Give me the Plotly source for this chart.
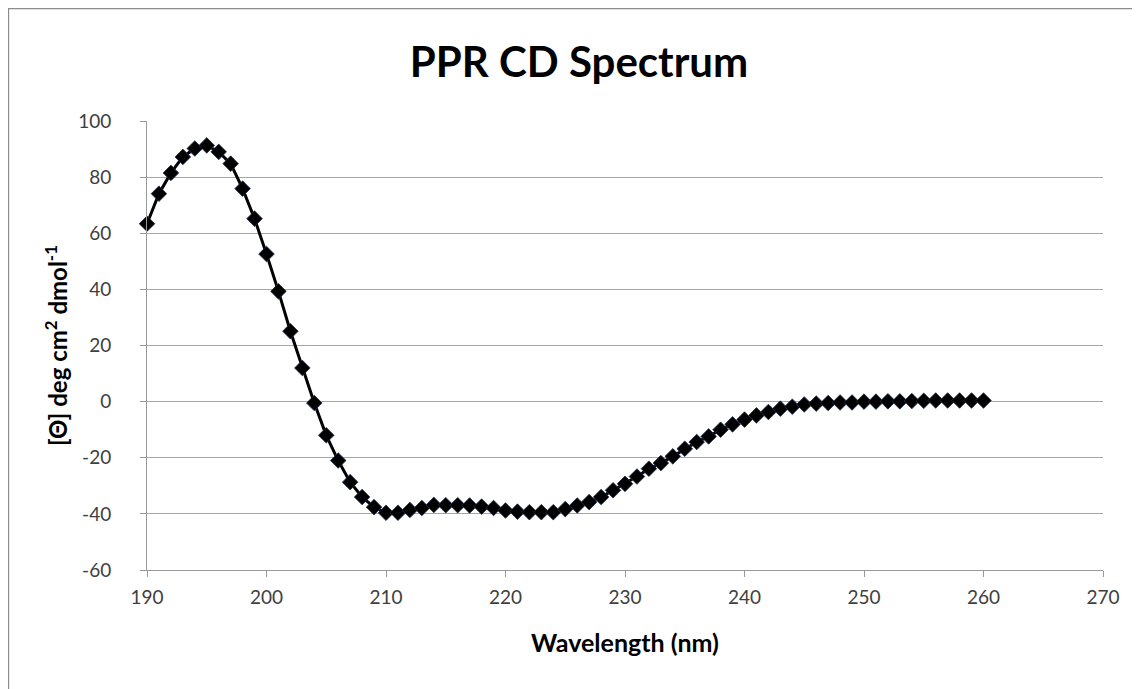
import plotly.graph_objects as go

wavelength = list(range(190, 261))
ellipticity = [
    63.4, 74.1, 81.5, 87.2, 90.2, 91.3, 89.0, 84.8, 75.9, 65.2,
    52.6, 39.3, 25.1, 12.0, -0.5, -12.0, -21.0, -28.7, -34.0, -37.6,
    -39.6, -39.6, -38.6, -37.9, -36.8, -36.9, -36.9, -37.0, -37.4, -37.9,
    -38.8, -39.2, -39.4, -39.4, -39.4, -38.3, -37.0, -35.8, -34.0, -31.6,
    -29.3, -26.7, -23.9, -21.9, -19.5, -16.8, -14.4, -12.4, -10.0, -8.1,
    -6.4, -4.9, -3.7, -2.5, -1.8, -1.0, -0.7, -0.5, -0.3, -0.3,
    0.0, 0.0, 0.1, 0.1, 0.2, 0.3, 0.4, 0.4, 0.4, 0.4,
    0.4,
]
x_ticks = [190, 200, 210, 220, 230, 240, 250, 260, 270]
y_ticks = [-60, -40, -20, 0, 20, 40, 60, 80, 100]
y_tick_text = ["-60", "-40", "-20", "0", "20", "40", "60", "80", "100"]

FONT = "Lato"

# page body has an 8px margin; plot area aimed at screen x 147..1103, y 121..570
L, T = 139, 113
PW, PH = 955.7, 448.8
W, H = 1140, 689
R = W - L - PW
B = H - T - PH

fig = go.Figure()
fig.add_trace(go.Scatter(
    x=wavelength, y=ellipticity, mode="lines+markers",
    line=dict(color="black", width=3),
    marker=dict(symbol="diamond", size=12, color="black",
                line=dict(color="#1f2d4a", width=0.8)),
    cliponaxis=False,
    showlegend=False,
))

axis_common = dict(
    showline=True, linecolor="#9a9a9a", linewidth=1,
    ticks="outside", ticklen=6, tickcolor="#9a9a9a",
    tickfont=dict(family=FONT, size=19, color="#404040"),
    zeroline=False,
)

fig.update_layout(
    width=W, height=H,
    margin=dict(l=L, r=R, t=T, b=B),
    paper_bgcolor="white", plot_bgcolor="white",
    title=dict(text="<b>PPR CD Spectrum</b>", x=(579 - 8) / W, xanchor="center",
               y=1 - (62 - 8) / H, yanchor="middle",
               font=dict(family=FONT, size=42, color="black")),
    xaxis=dict(range=[190, 270], tickvals=x_ticks, showgrid=False,
               ticklabelstandoff=4,
               title=dict(text="<b>Wavelength (nm)</b>", standoff=27,
                          font=dict(family=FONT, size=25, color="black")),
               **axis_common),
    yaxis=dict(range=[-60, 100], tickvals=y_ticks, ticktext=y_tick_text,
               showgrid=True, gridcolor="#a6a6a6", gridwidth=1,
               ticklabelstandoff=25,
               title=dict(text="<b>[Θ] deg cm<sup>2</sup> dmol<sup>-1</sup></b>", standoff=3,
                          font=dict(family=FONT, size=24, color="black")),
               **axis_common),
    shapes=[dict(type="rect", xref="paper", yref="paper",
                 x0=-L / PW + 0.0005, x1=1.3,
                 y0=-0.5, y1=(PH + T) / PH - 0.001,
                 line=dict(color="#8c8c8c", width=1.5), layer="below")],
)

fig.write_html("out.html")
